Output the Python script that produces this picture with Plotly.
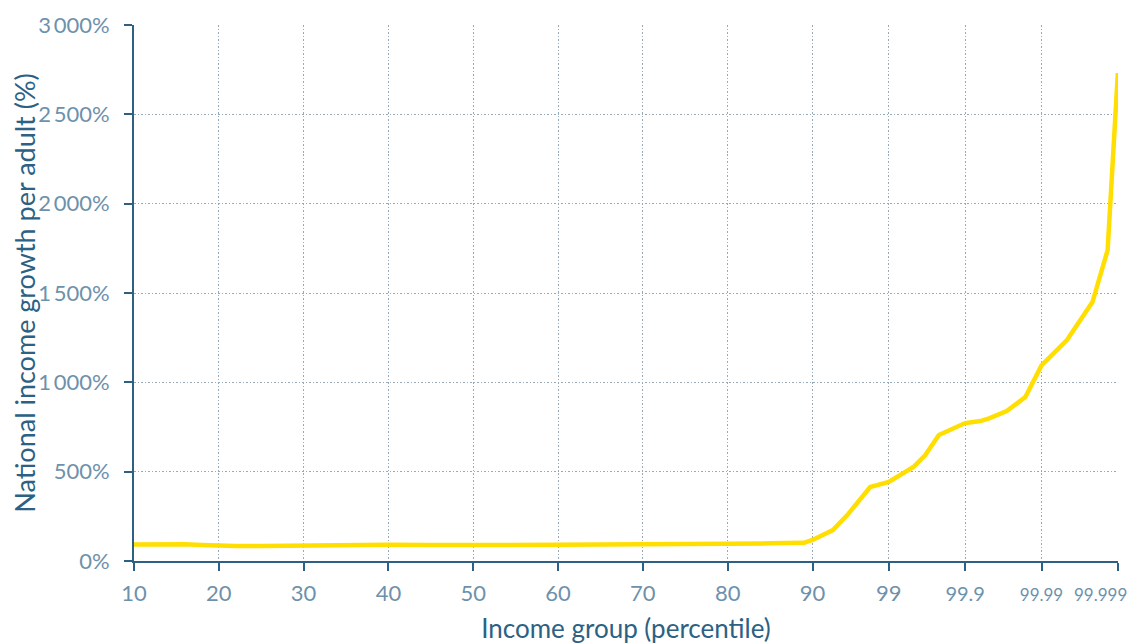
import math
import plotly.graph_objects as go

# Income group percentiles (x) and national income growth per adult in % (y)
percentile = [10, 12, 14, 16, 18, 20, 22, 25, 30, 35, 40, 45, 50, 55, 60, 65, 70, 75, 80, 85, 89,
              90, 92.83, 94.59, 96.5, 98.245, 99, 99.524, 99.667, 99.779, 99.9, 99.9369, 99.9524,
              99.97144, 99.98374, 99.99, 99.99536, 99.99785, 99.99864, 99.999]
growth = [93, 95, 96, 94, 90, 86, 84, 84, 88, 91, 91, 89, 88, 89, 91, 92, 92, 94, 96, 99, 102,
          118, 145, 173, 257, 414, 442, 526, 593, 705, 772, 783, 800, 839,
          918, 1095, 1237, 1449, 1740, 2731]

tick_pct = [10, 20, 30, 40, 50, 60, 70, 80, 90, 99, 99.9, 99.99, 99.999]
tick_labels = ["10", "20", "30", "40", "50", "60", "70", "80", "90", "99",
               "<span style='font-size:20px'>99.9</span>",
               "<span style='font-size:17px'>99.99</span>",
               ""]  # last label is drawn right-aligned below so it stays on the page
last_label = "99.999"
y_ticks = [0, 500, 1000, 1500, 2000, 2500, 3000]
y_labels = ["0%", "500%", "1\u2009000%", "1\u2009500%", "2\u2009000%", "2\u2009500%", "3\u2009000%"]


def scale(p):
    # linear up to the 90th percentile, then each extra "9" gets an equal step
    if p <= 90:
        return p
    return round(90 - 9 * math.log10((100 - p) / 10), 6)


AXIS = "#2c6183"
TICK = "#6e91ab"
GRID = "#98a9b7"

fig = go.Figure(go.Scatter(
    x=[scale(p) for p in percentile],
    y=growth,
    mode="lines",
    line=dict(color="#ffde00", width=4.5),
    hoverinfo="skip",
))

# the page body adds an 8px margin, so the figure is 8px smaller than the window
fig.update_layout(
    width=1131, height=636,
    margin=dict(l=126, r=21, t=17, b=83),
    plot_bgcolor="white", paper_bgcolor="white",
    font=dict(family="Lato", color=TICK),
    showlegend=False,
)
fig.add_annotation(
    x=scale(tick_pct[-1]), y=0, xref="x", yref="y",
    text=last_label, showarrow=False,
    xanchor="right", yanchor="middle", xshift=11, yshift=-33,
    font=dict(size=17, color=TICK),
)
fig.update_xaxes(
    range=[10, 126.02],
    tickvals=[scale(p) for p in tick_pct], ticktext=tick_labels,
    tickfont=dict(size=22, color=TICK),
    showline=True, linecolor=AXIS, linewidth=2,
    ticks="outside", ticklen=8, tickwidth=2, tickcolor=AXIS,
    ticklabelstandoff=4, ticklabeloverflow="allow",
    showgrid=True, gridcolor=GRID, gridwidth=1, griddash="1.5px,2px",
    zeroline=False, automargin=False,
    title=dict(text="Income group (percentile)", font=dict(size=26, color=AXIS), standoff=16),
)
fig.update_yaxes(
    range=[0, 3000],
    tickvals=y_ticks, ticktext=y_labels,
    tickfont=dict(size=22, color=TICK),
    showline=True, linecolor=AXIS, linewidth=2,
    ticks="outside", ticklen=8, tickwidth=2, tickcolor=AXIS,
    ticklabelstandoff=10,
    showgrid=True, gridcolor=GRID, gridwidth=1, griddash="1.5px,2px",
    zeroline=False, automargin=False,
    title=dict(text="National income growth per adult (%)", font=dict(size=27, color=AXIS), standoff=5),
)

fig.write_html("out.html")
